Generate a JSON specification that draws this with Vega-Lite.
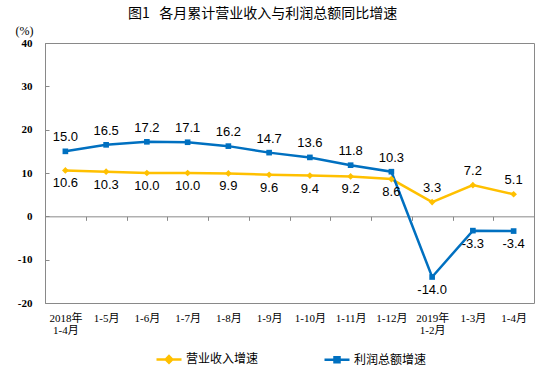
{
  "$schema": "https://vega.github.io/schema/vega-lite/v6.json",
  "width": 489,
  "height": 260,
  "autosize": {"type": "none"},
  "padding": {"left": 45, "top": 43, "right": 16, "bottom": 69},
  "background": "#ffffff",
  "title": {
    "text": "图1\u00a0\u00a0\u00a0各月累计营业收入与利润总额同比增速",
    "font": "Noto Sans CJK SC",
    "fontSize": 14,
    "fontWeight": "normal",
    "color": "#000000",
    "anchor": "start",
    "frame": "group",
    "dx": 83,
    "offset": 3
  },
  "config": {
    "view": {"stroke": "#898989", "strokeWidth": 1},
    "axis": {"grid": false},
    "locale": {"number": {"decimal": ".", "thousands": ",", "grouping": [3], "currency": ["", ""], "minus": "-"}}
  },
  "data": {
    "values": [
      {"period": "2018年\n1-4月", "year": 2018, "series": "营业收入增速", "value": 10.6},
      {"period": "2018年\n1-4月", "year": 2018, "series": "利润总额增速", "value": 15.0},
      {"period": "1-5月", "year": 2018, "series": "营业收入增速", "value": 10.3},
      {"period": "1-5月", "year": 2018, "series": "利润总额增速", "value": 16.5},
      {"period": "1-6月", "year": 2018, "series": "营业收入增速", "value": 10.0},
      {"period": "1-6月", "year": 2018, "series": "利润总额增速", "value": 17.2},
      {"period": "1-7月", "year": 2018, "series": "营业收入增速", "value": 10.0},
      {"period": "1-7月", "year": 2018, "series": "利润总额增速", "value": 17.1},
      {"period": "1-8月", "year": 2018, "series": "营业收入增速", "value": 9.9},
      {"period": "1-8月", "year": 2018, "series": "利润总额增速", "value": 16.2},
      {"period": "1-9月", "year": 2018, "series": "营业收入增速", "value": 9.6},
      {"period": "1-9月", "year": 2018, "series": "利润总额增速", "value": 14.7},
      {"period": "1-10月", "year": 2018, "series": "营业收入增速", "value": 9.4},
      {"period": "1-10月", "year": 2018, "series": "利润总额增速", "value": 13.6},
      {"period": "1-11月", "year": 2018, "series": "营业收入增速", "value": 9.2},
      {"period": "1-11月", "year": 2018, "series": "利润总额增速", "value": 11.8},
      {"period": "1-12月", "year": 2018, "series": "营业收入增速", "value": 8.6},
      {"period": "1-12月", "year": 2018, "series": "利润总额增速", "value": 10.3},
      {"period": "2019年\n1-2月", "year": 2019, "series": "营业收入增速", "value": 3.3},
      {"period": "2019年\n1-2月", "year": 2019, "series": "利润总额增速", "value": -14.0},
      {"period": "1-3月", "year": 2019, "series": "营业收入增速", "value": 7.2},
      {"period": "1-3月", "year": 2019, "series": "利润总额增速", "value": -3.3},
      {"period": "1-4月", "year": 2019, "series": "营业收入增速", "value": 5.1},
      {"period": "1-4月", "year": 2019, "series": "利润总额增速", "value": -3.4}
    ]
  },
  "encoding": {
    "x": {
      "field": "period",
      "type": "nominal",
      "sort": null,
      "bandPosition": 0.5,
      "scale": {"type": "band", "paddingInner": 0, "paddingOuter": 0},
      "axis": {
        "title": null,
        "offset": -86.67,
        "domainColor": "#898989",
        "tickColor": "#898989",
        "tickSize": 4,
        "tickBand": "extent",
        "labelPadding": 92,
        "labelAngle": 0,
        "labelFont": "Liberation Serif, Noto Sans CJK SC",
        "labelFontSize": 11,
        "labelColor": "#000000",
        "labelExpr": "split(datum.label, '\\n')",
        "labelLineHeight": 12
      }
    },
    "y": {
      "field": "value",
      "type": "quantitative",
      "scale": {"domain": [-20, 40], "nice": false, "zero": false},
      "axis": {
        "title": "(%)",
        "titleAngle": 0,
        "titleX": -30,
        "titleY": -13,
        "titleAlign": "left",
        "titleBaseline": "middle",
        "titleFont": "Liberation Serif",
        "titleFontSize": 12,
        "titleFontWeight": "normal",
        "titleColor": "#000000",
        "values": [-20, -10, 0, 10, 20, 30, 40],
        "tickSize": -4,
        "tickColor": "#898989",
        "domainColor": "#898989",
        "labelPadding": 17,
        "labelFlush": false,
        "labelFont": "Liberation Serif",
        "labelFontSize": 11,
        "labelFontWeight": "bold",
        "labelColor": "#000000"
      }
    },
    "color": {
      "field": "series",
      "type": "nominal",
      "scale": {"domain": ["营业收入增速", "利润总额增速"], "range": ["#FFC000", "#0070C0"]},
      "legend": {
        "title": null,
        "orient": "none",
        "legendX": 110,
        "legendY": 302,
        "direction": "horizontal",
        "labelFont": "Noto Sans CJK SC",
        "labelFontSize": 12,
        "labelColor": "#000000",
        "symbolSize": 625,
        "columnPadding": 60,
        "labelOffset": 3,
        "symbolStrokeWidth": 2.5,
        "encode": {
          "symbols": {
            "update": {
              "shape": {"signal": "datum.value === '营业收入增速' ? 'M-1,0L1,0M0,-0.26L0.26,0L0,0.26L-0.26,0Z' : 'M-1,0L1,0M-0.2,-0.2L0.2,-0.2L0.2,0.2L-0.2,0.2Z'"},
              "fill": {"scale": "color", "field": "value"},
              "stroke": {"scale": "color", "field": "value"},
              "strokeWidth": {"value": 2.5},
              "opacity": {"value": 1}
            }
          }
        }
      }
    }
  },
  "layer": [
    {
      "mark": {"type": "line", "strokeWidth": 2.5}
    },
    {
      "transform": [{"filter": "datum.series === '营业收入增速'"}],
      "mark": {"type": "point", "shape": "diamond", "filled": true, "size": 45, "opacity": 1}
    },
    {
      "transform": [{"filter": "datum.series === '利润总额增速'"}],
      "mark": {"type": "point", "shape": "square", "filled": true, "size": 32, "opacity": 1}
    },
    {
      "transform": [{"filter": "(datum.series === '利润总额增速') === (datum.year === 2018)"}],
      "mark": {"type": "text", "dy": -14, "font": "Liberation Sans", "fontSize": 13},
      "encoding": {
        "text": {"field": "value", "type": "quantitative", "format": ".1f"},
        "color": {"value": "#000000"}
      }
    },
    {
      "transform": [{"filter": "(datum.series === '利润总额增速') !== (datum.year === 2018)"}],
      "mark": {"type": "text", "dy": 13, "font": "Liberation Sans", "fontSize": 13},
      "encoding": {
        "text": {"field": "value", "type": "quantitative", "format": ".1f"},
        "color": {"value": "#000000"}
      }
    }
  ]
}
